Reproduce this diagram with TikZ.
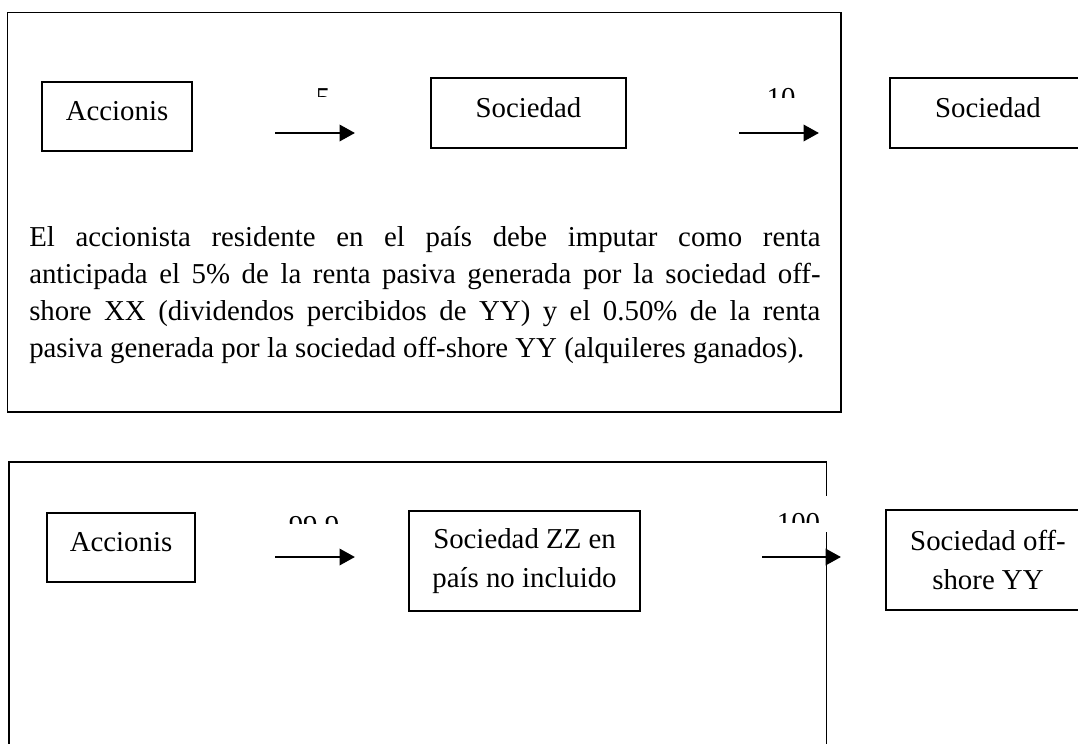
\documentclass[tikz,border=0pt]{standalone}
\usepackage{fontspec}
\setmainfont{Liberation Serif}
\usetikzlibrary{arrows.meta}
\tikzset{
  marco/.style={line width=1.3pt},
  caja/.style={draw,line width=1.3pt,inner sep=0pt,align=center,font=\fontsize{20.5}{28.3}\selectfont},
  unalinea/.style={text depth=7.5pt},
  flecha/.style={line width=2.1pt,-{Triangle[length=11pt,width=11.5pt]}},
  pct/.style={inner sep=0pt,anchor=base,font=\fontsize{20.5}{24}\selectfont},
}
\begin{document}
\begin{tikzpicture}[x=0.025cm,y=-0.025cm]
\useasboundingbox (0,0) rectangle (1078,743);
\clip (0,0) rectangle (1078,743);
%=======esquema superior=============
\draw[marco] (7.5,12.5) rectangle (841,412);
\node[caja,unalinea,minimum width=3.75cm,minimum height=1.725cm] (acc1) at (117,116.5) {Accionis};
\node[caja,unalinea,minimum width=4.875cm,minimum height=1.75cm] (soc1) at (528.5,113) {Sociedad};
\node[caja,unalinea,minimum width=4.9cm,minimum height=1.75cm] (soc2) at (988,113) {Sociedad};
\coordinate (f1a) at (275,133); \coordinate (f1b) at (355,133);
\coordinate (f2a) at (739,133); \coordinate (f2b) at (819,133);
\draw[flecha] (f1a)--(f1b);
\draw[flecha] (f2a)--(f2b);
\begin{scope}
\clip (290,80) rectangle (360,96);
\node[pct] (p5) at (323,107.6) {5};
\end{scope}
\begin{scope}
\clip (750,80) rectangle (810,97);
\node[pct] (p10) at (781,107) {10};
\end{scope}
\node[anchor=north west,inner sep=0pt,text width=19.775cm,align=justify,font=\fontsize{20.5}{26.3}\selectfont] (texto) at (29,226)
  {El accionista residente en el país debe imputar como renta\linebreak anticipada el 5\% de la renta pasiva generada por la sociedad off-\linebreak shore XX (dividendos percibidos de YY) y el 0.50\% de la renta\linebreak pasiva generada por la sociedad off-shore YY (alquileres ganados).};
%=======esquema inferior=============
\draw[marco] (9,462) rectangle (826.5,760);
\node[caja,unalinea,minimum width=3.71cm,minimum height=1.725cm] (acc2) at (121,547.5) {Accionis};
\node[caja,minimum width=5.775cm,minimum height=2.51cm] (zz) at (524.5,561) {Sociedad ZZ en\\país no incluido};
\node[caja,minimum width=5.1cm,minimum height=2.5cm] (yy) at (988,560) {Sociedad off-\\shore YY};
\coordinate (f3a) at (275,557); \coordinate (f3b) at (355,557);
\coordinate (f4a) at (762,557); \coordinate (f4b) at (841,557);
\draw[flecha] (f3a)--(f3b);
\begin{scope}
\clip (280,505) rectangle (350,523.5);
\node[pct] (p999) at (314,535.6) {99.9};
\end{scope}
\fill[white] (768,496) rectangle (832,532);
\begin{scope}
\clip (768,500) rectangle (832,522);
\node[pct] (p100) at (798.5,532.6) {100};
\end{scope}
\draw[flecha] (f4a)--(f4b);
\end{tikzpicture}
\end{document}
